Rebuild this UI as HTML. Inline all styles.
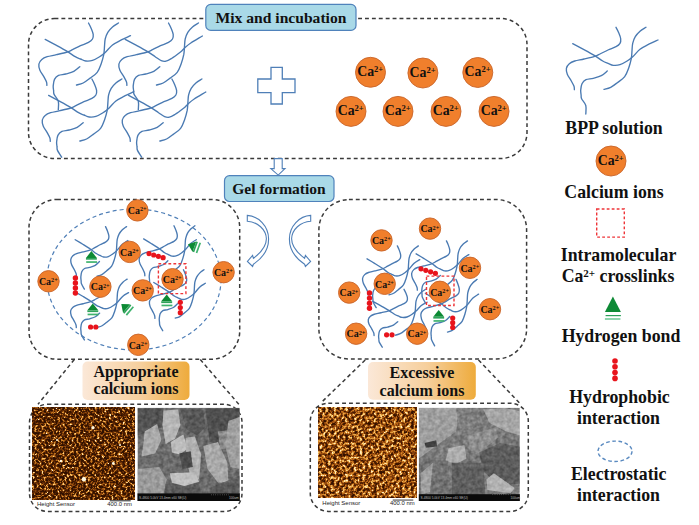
<!DOCTYPE html><html><head><meta charset="utf-8"><style>
html,body{margin:0;padding:0;background:#fff;width:699px;height:525px;overflow:hidden}
svg{display:block;position:absolute;left:0;top:0}
.net path{fill:none;stroke:#4a7bb3;stroke-width:1.5;stroke-linecap:round}
.ca{fill:#f07f2c;stroke:#c8642a;stroke-width:0.9}
.cat{font-family:"Liberation Serif",serif;font-weight:bold;fill:#111}
.dash{fill:none;stroke:#3a3a3a;stroke-width:1.5;stroke-dasharray:3.9 3}
.lbl{font-family:"Liberation Serif",serif;font-weight:bold;fill:#111}
</style></head><body>
<svg width="699" height="525" viewBox="0 0 699 525">
<defs>
<g id="tile" fill="none" stroke="#4a7ab2" stroke-width="1.35" stroke-linecap="round"><path d="M88.5,23.0 C89.0,23.9 90.4,26.5 91.2,28.4 C92.0,30.3 93.0,32.6 93.2,34.4 C93.4,36.2 93.3,37.7 92.5,39.0 C91.7,40.3 90.5,41.3 88.5,42.4 C86.5,43.5 83.2,44.5 80.5,45.7 C77.8,46.9 74.7,48.7 72.5,49.7 C70.3,50.8 69.9,51.2 67.2,52.0 C64.5,52.8 59.8,53.9 56.5,54.7 C53.2,55.5 49.7,55.9 47.2,56.7 C44.8,57.5 43.2,58.2 41.8,59.4 C40.4,60.6 39.2,62.2 38.9,64.0 C38.6,65.8 39.0,67.9 39.8,70.0 C40.6,72.1 42.7,74.7 43.8,76.7 C44.9,78.7 46.0,80.5 46.5,82.0 C47.0,83.5 46.8,84.8 46.9,85.4" vector-effect="non-scaling-stroke"/><path d="M45.2,39.4 C47.1,40.4 52.8,43.4 56.5,45.4 C60.2,47.4 64.1,49.5 67.2,51.4 C70.3,53.3 73.0,55.4 75.2,56.7 C77.4,58.0 78.7,58.3 80.5,59.0 C82.3,59.7 83.8,60.8 85.8,61.0 C87.8,61.2 90.3,61.1 92.5,60.4 C94.7,59.7 97.1,58.3 99.2,57.0 C101.3,55.7 103.0,54.4 105.2,52.4 C107.4,50.4 110.0,47.0 112.5,45.0 C115.0,43.0 117.5,41.9 120.5,40.4 C123.5,38.9 128.8,36.5 130.5,35.7" vector-effect="non-scaling-stroke"/><path d="M118.5,23.0 C117.5,23.7 114.3,25.4 112.5,27.0 C110.7,28.6 109.0,30.4 107.8,32.4 C106.6,34.4 105.8,36.7 105.2,39.0 C104.7,41.3 104.7,43.8 104.5,46.4 C104.3,49.0 104.3,51.5 103.8,54.4 C103.2,57.3 102.3,60.7 101.2,63.7 C100.1,66.7 99.1,70.0 97.2,72.4 C95.3,74.9 92.1,76.6 89.8,78.4 C87.5,80.2 85.4,81.9 83.2,83.0 C81.0,84.1 77.6,84.7 76.5,85.0" vector-effect="non-scaling-stroke"/><path d="M79.8,66.7 C78.8,67.5 76.1,70.2 73.8,71.4 C71.5,72.6 68.3,73.3 65.8,74.0 C63.2,74.7 60.4,74.5 58.5,75.4 C56.6,76.3 55.4,77.6 54.5,79.4 C53.6,81.2 53.4,84.1 53.2,86.0 C53.1,87.9 53.5,89.3 53.6,90.7 C53.8,92.1 53.3,92.7 54.1,94.4 C54.9,96.2 57.6,98.6 58.3,101.2 C59.0,103.8 58.3,108.4 58.3,109.8" vector-effect="non-scaling-stroke"/></g>
<g id="tileR" fill="none" stroke="#4a7ab2" stroke-width="1.35" stroke-linecap="round"><path d="M88.5,23.0 C89.0,23.9 90.4,26.5 91.2,28.4 C92.0,30.3 93.0,32.6 93.2,34.4 C93.4,36.2 93.3,37.7 92.5,39.0 C91.7,40.3 90.5,41.3 88.5,42.4 C86.5,43.5 83.2,44.5 80.5,45.7 C77.8,46.9 74.7,48.7 72.5,49.7 C70.3,50.8 69.9,51.2 67.2,52.0 C64.5,52.8 59.8,53.9 56.5,54.7 C53.2,55.5 49.7,55.9 47.2,56.7 C44.8,57.5 43.2,58.2 41.8,59.4 C40.4,60.6 39.2,62.2 38.9,64.0 C38.6,65.8 39.0,67.9 39.8,70.0 C40.6,72.1 42.7,74.7 43.8,76.7 C44.9,78.7 46.0,80.5 46.5,82.0 C47.0,83.5 46.8,84.8 46.9,85.4" vector-effect="non-scaling-stroke"/><path d="M45.2,39.4 C47.1,40.4 52.8,43.4 56.5,45.4 C60.2,47.4 64.1,49.5 67.2,51.4 C70.3,53.3 72.9,55.2 75.2,56.7 C77.5,58.2 79.4,59.9 81.2,60.6 C83.0,61.4 84.3,61.6 86.0,61.2 C87.7,60.9 89.1,60.0 91.5,58.5 C93.9,57.0 98.3,53.7 100.5,52.0 C102.7,50.3 102.7,49.7 104.4,48.2 C106.1,46.7 107.8,45.0 110.8,43.0 C113.8,41.0 120.5,37.2 122.4,36.0" vector-effect="non-scaling-stroke"/><path d="M118.5,23.0 C117.5,23.7 114.3,25.4 112.5,27.0 C110.7,28.6 109.0,30.4 107.8,32.4 C106.6,34.4 105.8,36.7 105.2,39.0 C104.7,41.3 104.7,43.8 104.5,46.4 C104.3,49.0 104.3,51.5 103.8,54.4 C103.2,57.3 102.3,60.7 101.2,63.7 C100.1,66.7 99.1,70.0 97.2,72.4 C95.3,74.9 92.1,76.6 89.8,78.4 C87.5,80.2 85.4,81.9 83.2,83.0 C81.0,84.1 77.6,84.7 76.5,85.0" vector-effect="non-scaling-stroke"/><path d="M79.8,66.7 C78.8,67.5 76.1,70.2 73.8,71.4 C71.5,72.6 68.3,73.3 65.8,74.0 C63.2,74.7 60.4,74.5 58.5,75.4 C56.6,76.3 55.4,77.6 54.5,79.4 C53.6,81.2 53.4,84.1 53.2,86.0 C53.1,87.9 53.5,89.3 53.6,90.7 C53.8,92.1 53.3,92.7 54.1,94.4 C54.9,96.2 57.6,98.6 58.3,101.2 C59.0,103.8 58.3,108.4 58.3,109.8" vector-effect="non-scaling-stroke"/></g>
<g id="tileRS" fill="none" stroke="#4a7ab2" stroke-width="1.35" stroke-linecap="round"><path d="M88.5,23.0 C89.0,23.9 90.4,26.5 91.2,28.4 C92.0,30.3 93.0,32.6 93.2,34.4 C93.4,36.2 93.3,37.7 92.5,39.0 C91.7,40.3 90.5,41.3 88.5,42.4 C86.5,43.5 83.2,44.5 80.5,45.7 C77.8,46.9 74.7,48.7 72.5,49.7 C70.3,50.8 69.9,51.2 67.2,52.0 C64.5,52.8 59.8,53.9 56.5,54.7 C53.2,55.5 49.7,55.9 47.2,56.7 C44.8,57.5 43.2,58.2 41.8,59.4 C40.4,60.6 39.2,62.2 38.9,64.0 C38.6,65.8 39.0,67.9 39.8,70.0 C40.6,72.1 42.7,74.7 43.8,76.7 C44.9,78.7 46.0,80.5 46.5,82.0 C47.0,83.5 46.8,84.8 46.9,85.4" vector-effect="non-scaling-stroke"/><path d="M45.2,39.4 C47.1,40.4 52.8,43.4 56.5,45.4 C60.2,47.4 64.1,49.5 67.2,51.4 C70.3,53.3 72.9,55.2 75.2,56.7 C77.5,58.2 79.4,59.9 81.2,60.6 C83.0,61.4 84.3,61.6 86.0,61.2 C87.7,60.9 89.1,60.0 91.5,58.5 C93.9,57.0 98.3,53.7 100.5,52.0 C102.7,50.3 102.7,49.7 104.4,48.2 C106.1,46.7 107.8,45.0 110.8,43.0 C113.8,41.0 120.5,37.2 122.4,36.0" vector-effect="non-scaling-stroke"/><path d="M118.5,23.0 C117.5,23.7 114.3,25.4 112.5,27.0 C110.7,28.6 109.0,30.4 107.8,32.4 C106.6,34.4 105.8,36.7 105.2,39.0 C104.7,41.3 104.7,43.8 104.5,46.4 C104.3,49.0 104.3,51.5 103.8,54.4 C103.2,57.3 102.3,60.7 101.2,63.7 C100.1,66.7 99.1,70.0 97.2,72.4 C95.3,74.9 92.1,76.6 89.8,78.4 C87.5,80.2 85.4,81.9 83.2,83.0 C81.0,84.1 77.6,84.7 76.5,85.0" vector-effect="non-scaling-stroke"/><path d="M79.8,66.7 C78.8,67.5 76.1,70.2 73.8,71.4 C71.5,72.6 68.3,73.3 65.8,74.0 C63.2,74.7 60.4,74.5 58.5,75.4 C56.6,76.3 55.4,77.6 54.5,79.4 C53.6,81.2 53.4,84.1 53.2,86.0 C53.1,87.9 53.5,89.3 53.6,90.7 C53.8,92.1 53.3,92.7 54.1,94.4 C54.9,96.2 57.6,100.1 58.3,101.2" vector-effect="non-scaling-stroke"/></g>
<g id="tileS" fill="none" stroke="#4a7ab2" stroke-width="1.35" stroke-linecap="round"><path d="M88.5,23.0 C89.0,23.9 90.4,26.5 91.2,28.4 C92.0,30.3 93.0,32.6 93.2,34.4 C93.4,36.2 93.3,37.7 92.5,39.0 C91.7,40.3 90.5,41.3 88.5,42.4 C86.5,43.5 83.2,44.5 80.5,45.7 C77.8,46.9 74.7,48.7 72.5,49.7 C70.3,50.8 69.9,51.2 67.2,52.0 C64.5,52.8 59.8,53.9 56.5,54.7 C53.2,55.5 49.7,55.9 47.2,56.7 C44.8,57.5 43.2,58.2 41.8,59.4 C40.4,60.6 39.2,62.2 38.9,64.0 C38.6,65.8 39.0,67.9 39.8,70.0 C40.6,72.1 42.7,74.7 43.8,76.7 C44.9,78.7 46.0,80.5 46.5,82.0 C47.0,83.5 46.8,84.8 46.9,85.4" vector-effect="non-scaling-stroke"/><path d="M45.2,39.4 C47.1,40.4 52.8,43.4 56.5,45.4 C60.2,47.4 64.1,49.5 67.2,51.4 C70.3,53.3 73.0,55.4 75.2,56.7 C77.4,58.0 78.7,58.3 80.5,59.0 C82.3,59.7 83.8,60.8 85.8,61.0 C87.8,61.2 90.3,61.1 92.5,60.4 C94.7,59.7 97.1,58.3 99.2,57.0 C101.3,55.7 103.0,54.4 105.2,52.4 C107.4,50.4 110.0,47.0 112.5,45.0 C115.0,43.0 117.5,41.9 120.5,40.4 C123.5,38.9 128.8,36.5 130.5,35.7" vector-effect="non-scaling-stroke"/><path d="M118.5,23.0 C117.5,23.7 114.3,25.4 112.5,27.0 C110.7,28.6 109.0,30.4 107.8,32.4 C106.6,34.4 105.8,36.7 105.2,39.0 C104.7,41.3 104.7,43.8 104.5,46.4 C104.3,49.0 104.3,51.5 103.8,54.4 C103.2,57.3 102.3,60.7 101.2,63.7 C100.1,66.7 99.1,70.0 97.2,72.4 C95.3,74.9 92.1,76.6 89.8,78.4 C87.5,80.2 85.4,81.9 83.2,83.0 C81.0,84.1 77.6,84.7 76.5,85.0" vector-effect="non-scaling-stroke"/><path d="M79.8,66.7 C78.8,67.5 76.1,70.2 73.8,71.4 C71.5,72.6 68.3,73.3 65.8,74.0 C63.2,74.7 60.4,74.5 58.5,75.4 C56.6,76.3 55.4,77.6 54.5,79.4 C53.6,81.2 53.4,84.1 53.2,86.0 C53.1,87.9 53.5,89.3 53.6,90.7 C53.8,92.1 53.3,92.7 54.1,94.4 C54.9,96.2 57.6,100.1 58.3,101.2" vector-effect="non-scaling-stroke"/></g>
<g id="tile2" fill="none" stroke="#4a7ab2" stroke-width="1.35" stroke-linecap="round"><path d="M88.5,23.0 C89.0,23.9 90.4,26.5 91.2,28.4 C92.0,30.3 93.0,32.6 93.2,34.4 C93.4,36.2 93.3,37.7 92.5,39.0 C91.7,40.3 90.5,41.3 88.5,42.4 C86.5,43.5 83.2,44.5 80.5,45.7 C77.8,46.9 74.7,48.7 72.5,49.7 C70.3,50.8 69.9,51.2 67.2,52.0 C64.5,52.8 59.8,53.9 56.5,54.7 C53.2,55.5 49.7,55.9 47.2,56.7 C44.8,57.5 43.2,58.2 41.8,59.4 C40.4,60.6 39.2,62.2 38.9,64.0 C38.6,65.8 39.0,67.9 39.8,70.0 C40.6,72.1 42.7,74.7 43.8,76.7 C44.9,78.7 46.0,80.5 46.5,82.0 C47.0,83.5 46.8,84.8 46.9,85.4" vector-effect="non-scaling-stroke"/><path d="M45.2,39.4 C47.1,40.4 52.8,43.4 56.5,45.4 C60.2,47.4 64.1,49.5 67.2,51.4 C70.3,53.3 73.0,55.4 75.2,56.7 C77.4,58.0 78.7,58.3 80.5,59.0 C82.3,59.7 83.8,60.8 85.8,61.0 C87.8,61.2 90.3,61.1 92.5,60.4 C94.7,59.7 97.1,58.3 99.2,57.0 C101.3,55.7 103.0,54.4 105.2,52.4 C107.4,50.4 110.0,47.0 112.5,45.0 C115.0,43.0 119.2,41.2 120.5,40.4" vector-effect="non-scaling-stroke"/><path d="M118.5,23.0 C117.5,23.7 114.3,25.4 112.5,27.0 C110.7,28.6 109.0,30.4 107.8,32.4 C106.6,34.4 105.8,36.7 105.2,39.0 C104.7,41.3 104.7,43.8 104.5,46.4 C104.3,49.0 104.3,51.5 103.8,54.4 C103.2,57.3 102.3,60.7 101.2,63.7 C100.1,66.7 99.1,70.0 97.2,72.4 C95.3,74.9 92.1,76.6 89.8,78.4 C87.5,80.2 85.4,81.9 83.2,83.0 C81.0,84.1 77.6,84.7 76.5,85.0" vector-effect="non-scaling-stroke"/><path d="M79.8,66.7 C78.8,67.5 76.1,70.2 73.8,71.4 C71.5,72.6 68.3,73.3 65.8,74.0 C63.2,74.7 60.4,74.5 58.5,75.4 C56.6,76.3 55.4,77.6 54.5,79.4 C53.6,81.2 53.4,84.1 53.2,86.0 C53.1,87.9 53.5,89.3 53.6,90.7 C53.8,92.1 53.3,92.7 54.1,94.4 C54.9,96.2 57.6,100.1 58.3,101.2" vector-effect="non-scaling-stroke"/></g>
<linearGradient id="lg" x1="0" y1="0" x2="1" y2="0"><stop offset="0" stop-color="#fbe8d8"/><stop offset="0.55" stop-color="#f6cf9c"/><stop offset="1" stop-color="#eeab3c"/></linearGradient>
<filter id="afm" x="0" y="0" width="1" height="1" color-interpolation-filters="sRGB">
<feTurbulence type="fractalNoise" baseFrequency="0.43" numOctaves="3" seed="7" result="n"/>
<feColorMatrix in="n" type="matrix" values="1.7 0 0 0 -0.42  1.7 0 0 0 -0.42  1.7 0 0 0 -0.42  0 0 0 0 1"/>
<feComponentTransfer><feFuncR type="table" tableValues="0.18 0.18 0.2 0.24 0.32 0.45 0.62 0.8 0.95 1 1"/><feFuncG type="table" tableValues="0.06 0.06 0.07 0.09 0.13 0.21 0.33 0.5 0.7 0.88 0.95"/><feFuncB type="table" tableValues="0 0 0 0 0.01 0.03 0.06 0.14 0.35 0.6 0.85"/></feComponentTransfer>
</filter>
<filter id="afm2" x="0" y="0" width="1" height="1" color-interpolation-filters="sRGB">
<feTurbulence type="fractalNoise" baseFrequency="0.35" numOctaves="3" seed="9" result="n"/>
<feColorMatrix in="n" type="matrix" values="1.7 0 0 0 -0.35  1.7 0 0 0 -0.35  1.7 0 0 0 -0.35  0 0 0 0 1"/>
<feComponentTransfer><feFuncR type="table" tableValues="0.2 0.2 0.24 0.32 0.45 0.6 0.75 0.87 0.95 1 1"/><feFuncG type="table" tableValues="0.07 0.07 0.09 0.13 0.2 0.3 0.42 0.58 0.75 0.88 0.95"/><feFuncB type="table" tableValues="0 0 0 0.01 0.03 0.06 0.1 0.2 0.4 0.6 0.8"/></feComponentTransfer>
</filter>
<filter id="semnoise" x="0" y="0" width="1" height="1" color-interpolation-filters="sRGB"><feTurbulence type="fractalNoise" baseFrequency="0.25" numOctaves="2" seed="2"/><feColorMatrix type="matrix" values="1.4 0 0 0 -0.2  1.4 0 0 0 -0.2  1.4 0 0 0 -0.2  0 0 0 0 1"/></filter>
<filter id="semblur" x="-5%" y="-5%" width="110%" height="110%"><feGaussianBlur stdDeviation="0.5"/></filter>
</defs>
<rect x="28.5" y="18.5" width="498.5" height="140" rx="26" class="dash"/>
<rect x="205.8" y="4.4" width="150.2" height="26" rx="5" fill="#a9d9e7" stroke="#4f82bb" stroke-width="1.2"/>
<text x="281" y="23.2" class="lbl" text-anchor="middle" style="font-size:15.6px">Mix and incubation</text>
<g class="net">
<g transform="matrix(1 0 0 1 0 0)"><use href="#tile"/></g>
<g transform="matrix(1 0 0 1 80 0)"><use href="#tileR"/></g>
<g transform="matrix(1 0 0 1 3.4 56)"><use href="#tileS"/></g>
<g transform="matrix(1 0 0 1 83.4 56)"><use href="#tileRS"/></g>
<g transform="matrix(1 0 0 1 527.5 4.3)"><use href="#tile"/></g>
<g transform="matrix(0.7 0 0 0.8 43.6 208.2)"><use href="#tile2"/></g>
<g transform="matrix(0.7 0 0 0.8 112 207.4)"><use href="#tile2"/></g>
<g transform="matrix(0.71 0 0 0.778 43 261.2)"><use href="#tile2"/></g>
<g transform="matrix(0.685 0 0 0.78 122.8 251.8)"><use href="#tile2"/></g>
<g transform="matrix(0.7 0 0 0.79 335.4 227.7)"><use href="#tile2"/></g>
<g transform="matrix(0.7 0 0 0.79 384.5 222.7)"><use href="#tile2"/></g>
<g transform="matrix(0.72 0 0 0.74 340.3 272.3)"><use href="#tile2"/></g>
<g transform="matrix(0.707 0 0 0.85 393.4 259.8)"><use href="#tile2"/></g>
</g>
<path d="M271,67.4 H282.3 V79 H295 V92.7 H282.3 V104 H271 V92.7 H257.8 V79 H271 Z" fill="#fff" stroke="#4f7fb7" stroke-width="1.3"/>
<circle cx="370.5" cy="72.3" r="15" class="ca"/>
<text x="357.2" y="76.0" class="cat" style="font-size:13.8px">Ca<tspan dy="-3.9" style="font-size:8.6px">2+</tspan></text>
<circle cx="422.9" cy="73" r="15" class="ca"/>
<text x="409.6" y="76.8" class="cat" style="font-size:13.8px">Ca<tspan dy="-3.9" style="font-size:8.6px">2+</tspan></text>
<circle cx="477.8" cy="72.5" r="15" class="ca"/>
<text x="464.5" y="76.2" class="cat" style="font-size:13.8px">Ca<tspan dy="-3.9" style="font-size:8.6px">2+</tspan></text>
<circle cx="351" cy="111.4" r="15" class="ca"/>
<text x="337.7" y="115.2" class="cat" style="font-size:13.8px">Ca<tspan dy="-3.9" style="font-size:8.6px">2+</tspan></text>
<circle cx="398" cy="111.4" r="15" class="ca"/>
<text x="384.7" y="115.2" class="cat" style="font-size:13.8px">Ca<tspan dy="-3.9" style="font-size:8.6px">2+</tspan></text>
<circle cx="446" cy="111.4" r="15" class="ca"/>
<text x="432.7" y="115.2" class="cat" style="font-size:13.8px">Ca<tspan dy="-3.9" style="font-size:8.6px">2+</tspan></text>
<circle cx="494" cy="111.4" r="15" class="ca"/>
<text x="480.7" y="115.2" class="cat" style="font-size:13.8px">Ca<tspan dy="-3.9" style="font-size:8.6px">2+</tspan></text>
<text x="614" y="133.7" class="lbl" text-anchor="middle" style="font-size:17.8px">BPP solution</text>
<circle cx="611" cy="161" r="15" class="ca"/>
<text x="597.7" y="164.8" class="cat" style="font-size:13.8px">Ca<tspan dy="-3.9" style="font-size:8.6px">2+</tspan></text>
<text x="614" y="198" class="lbl" text-anchor="middle" style="font-size:17.8px">Calcium ions</text>
<rect x="596.7" y="209" width="27.6" height="28.1" fill="none" stroke="#ee3538" stroke-width="1.4" stroke-dasharray="2.8 2.2"/>
<text x="618.5" y="260.7" class="lbl" text-anchor="middle" style="font-size:17.8px">Intramolecular</text>
<text x="618" y="281.5" class="lbl" text-anchor="middle" style="font-size:17.8px">Ca<tspan dy="-5" style="font-size:11px">2+</tspan><tspan dy="5"> crosslinks</tspan></text>
<path d="M612.9,296.4 L620.9,312.1 L604.9,312.1Z" fill="#0e8a36"/>
<rect x="605.6" y="315" width="15.3" height="1.2" fill="#2c9e5a"/><rect x="604.9" y="318.4" width="15.5" height="1.2" fill="#44b878"/>
<text x="621" y="341.5" class="lbl" text-anchor="middle" style="font-size:17.8px">Hydrogen bond</text>
<circle cx="615" cy="361.0" r="2.8" fill="#e8141c"/>
<circle cx="615" cy="366.8" r="2.8" fill="#e8141c"/>
<circle cx="615" cy="372.6" r="2.8" fill="#e8141c"/>
<circle cx="615" cy="378.4" r="2.8" fill="#e8141c"/>
<text x="619.5" y="403.4" class="lbl" text-anchor="middle" style="font-size:17.8px">Hydrophobic</text>
<text x="618.5" y="424" class="lbl" text-anchor="middle" style="font-size:17.8px">interaction</text>
<ellipse cx="615" cy="451.3" rx="17" ry="10.2" fill="none" stroke="#5a8ac0" stroke-width="1.4" stroke-dasharray="3.6 2.6"/>
<text x="618.7" y="480.4" class="lbl" text-anchor="middle" style="font-size:17.8px">Electrostatic</text>
<text x="618.5" y="501" class="lbl" text-anchor="middle" style="font-size:17.8px">interaction</text>
<path d="M274.2,158.6 H282.2 V168.6 H285 L278.2,175.1 L270.8,168.6 H274.2 Z" fill="#fff" stroke="#4f7fb7" stroke-width="1.1"/>
<rect x="224.5" y="175.7" width="109.5" height="25.8" rx="5" fill="#a9d9e7" stroke="#4f82bb" stroke-width="1.2"/>
<text x="279" y="194" class="lbl" text-anchor="middle" style="font-size:15.5px">Gel formation</text>
<rect x="29" y="199.4" width="210.7" height="159.8" rx="28" class="dash"/>
<rect x="318.9" y="199.6" width="207.7" height="159.4" rx="30" class="dash"/>
<ellipse cx="134" cy="279.5" rx="87" ry="70.5" fill="none" stroke="#4f7fb7" stroke-width="1.2" stroke-dasharray="4 3"/>
<path d="M247.3,215.4 C258.5,216 268.6,226 268.6,239 C268.6,250 262,258.5 253.4,264.2 L252.6,266.4 L247.4,261.4 L252.6,255.4 L253.4,258.3 C260.5,253 266.4,246 266.4,238.8 C266.2,229.5 257.5,221.8 247.3,221.2 Z" fill="#fff" stroke="#4f7fb7" stroke-width="1.1"/>
<path d="M247.3,215.4 C258.5,216 268.6,226 268.6,239 C268.6,250 262,258.5 253.4,264.2 L252.6,266.4 L247.4,261.4 L252.6,255.4 L253.4,258.3 C260.5,253 266.4,246 266.4,238.8 C266.2,229.5 257.5,221.8 247.3,221.2 Z" fill="#fff" stroke="#4f7fb7" stroke-width="1.1" transform="translate(558 0) scale(-1 1)"/>
<rect x="158.4" y="263.8" width="27.5" height="29.8" fill="none" stroke="#ee3538" stroke-width="1.4" stroke-dasharray="2.8 2.2"/>
<circle cx="137.4" cy="210.4" r="10.7" class="ca"/>
<text x="127.8" y="214.2" class="cat" style="font-size:9.95px">Ca<tspan dy="-2.8" style="font-size:6.2px">2+</tspan></text>
<circle cx="129.7" cy="251.9" r="10.7" class="ca"/>
<text x="120.0" y="255.7" class="cat" style="font-size:9.95px">Ca<tspan dy="-2.8" style="font-size:6.2px">2+</tspan></text>
<circle cx="48.5" cy="281.3" r="10.7" class="ca"/>
<text x="38.9" y="285.1" class="cat" style="font-size:9.95px">Ca<tspan dy="-2.8" style="font-size:6.2px">2+</tspan></text>
<circle cx="100.4" cy="286.7" r="10.7" class="ca"/>
<text x="90.8" y="290.4" class="cat" style="font-size:9.95px">Ca<tspan dy="-2.8" style="font-size:6.2px">2+</tspan></text>
<circle cx="142.7" cy="290.4" r="10.7" class="ca"/>
<text x="133.0" y="294.1" class="cat" style="font-size:9.95px">Ca<tspan dy="-2.8" style="font-size:6.2px">2+</tspan></text>
<circle cx="172.5" cy="279.2" r="10.7" class="ca"/>
<text x="162.8" y="282.9" class="cat" style="font-size:9.95px">Ca<tspan dy="-2.8" style="font-size:6.2px">2+</tspan></text>
<circle cx="223.6" cy="272.2" r="10.7" class="ca"/>
<text x="213.9" y="275.9" class="cat" style="font-size:9.95px">Ca<tspan dy="-2.8" style="font-size:6.2px">2+</tspan></text>
<circle cx="138.3" cy="344.8" r="10.7" class="ca"/>
<text x="128.7" y="348.6" class="cat" style="font-size:9.95px">Ca<tspan dy="-2.8" style="font-size:6.2px">2+</tspan></text>
<g transform="translate(91.4 251.1) rotate(0) scale(1.0)"><path d="M0,0 L5.45,6.8 L-5.45,6.8Z" fill="#0c8a34"/><rect x="-5.45" y="6.8" width="10.9" height="1.8" fill="#2ea35a"/><rect x="-5.2" y="10.1" width="10.9" height="1.7" fill="#3fb36e"/></g>
<g transform="translate(92.8 303.5) rotate(0) scale(1.0)"><path d="M0,0 L5.45,6.8 L-5.45,6.8Z" fill="#0c8a34"/><rect x="-5.45" y="6.8" width="10.9" height="1.8" fill="#2ea35a"/><rect x="-5.2" y="10.1" width="10.9" height="1.7" fill="#3fb36e"/></g>
<g transform="translate(166.7 294.5) rotate(0) scale(1.0)"><path d="M0,0 L5.45,6.8 L-5.45,6.8Z" fill="#0c8a34"/><rect x="-5.45" y="6.8" width="10.9" height="1.8" fill="#2ea35a"/><rect x="-5.2" y="10.1" width="10.9" height="1.7" fill="#3fb36e"/></g>
<g transform="translate(188 244.3) rotate(-70) scale(1.0)"><path d="M0,0 L5.45,6.8 L-5.45,6.8Z" fill="#0c8a34"/><rect x="-5.45" y="6.8" width="10.9" height="1.8" fill="#2ea35a"/><rect x="-5.2" y="10.1" width="10.9" height="1.7" fill="#3fb36e"/></g>
<g transform="translate(121.3 304.1) rotate(-50) scale(1.0)"><path d="M0,0 L5.45,6.8 L-5.45,6.8Z" fill="#0c8a34"/><rect x="-5.45" y="6.8" width="10.9" height="1.8" fill="#2ea35a"/><rect x="-5.2" y="10.1" width="10.9" height="1.7" fill="#3fb36e"/></g>
<circle cx="75.4" cy="278.0" r="2.7" fill="#e8141c"/>
<circle cx="75.4" cy="283.0" r="2.7" fill="#e8141c"/>
<circle cx="75.4" cy="288.0" r="2.7" fill="#e8141c"/>
<circle cx="75.4" cy="293.0" r="2.7" fill="#e8141c"/>
<circle cx="149.0" cy="253.6" r="2.6" fill="#e8141c"/>
<circle cx="153.7" cy="255.0" r="2.6" fill="#e8141c"/>
<circle cx="158.4" cy="256.3" r="2.6" fill="#e8141c"/>
<circle cx="163.1" cy="257.7" r="2.6" fill="#e8141c"/>
<circle cx="180.3" cy="302.3" r="2.6" fill="#e8141c"/>
<circle cx="180.3" cy="307.5" r="2.6" fill="#e8141c"/>
<circle cx="180.3" cy="312.7" r="2.6" fill="#e8141c"/>
<circle cx="90.6" cy="327.0" r="2.6" fill="#e8141c"/>
<circle cx="95.8" cy="327.0" r="2.6" fill="#e8141c"/>
<rect x="426.5" y="276.1" width="27.5" height="29.4" fill="none" stroke="#ee3538" stroke-width="1.4" stroke-dasharray="2.8 2.2"/>
<circle cx="430" cy="228.6" r="10.7" class="ca"/>
<text x="420.4" y="232.3" class="cat" style="font-size:9.95px">Ca<tspan dy="-2.8" style="font-size:6.2px">2+</tspan></text>
<circle cx="381.5" cy="240.4" r="10.7" class="ca"/>
<text x="371.9" y="244.2" class="cat" style="font-size:9.95px">Ca<tspan dy="-2.8" style="font-size:6.2px">2+</tspan></text>
<circle cx="470" cy="267.8" r="10.7" class="ca"/>
<text x="460.4" y="271.6" class="cat" style="font-size:9.95px">Ca<tspan dy="-2.8" style="font-size:6.2px">2+</tspan></text>
<circle cx="384.7" cy="283.8" r="10.7" class="ca"/>
<text x="375.1" y="287.6" class="cat" style="font-size:9.95px">Ca<tspan dy="-2.8" style="font-size:6.2px">2+</tspan></text>
<circle cx="349.2" cy="292.6" r="10.7" class="ca"/>
<text x="339.6" y="296.4" class="cat" style="font-size:9.95px">Ca<tspan dy="-2.8" style="font-size:6.2px">2+</tspan></text>
<circle cx="439.9" cy="291.8" r="10.7" class="ca"/>
<text x="430.2" y="295.6" class="cat" style="font-size:9.95px">Ca<tspan dy="-2.8" style="font-size:6.2px">2+</tspan></text>
<circle cx="490" cy="309.2" r="10.7" class="ca"/>
<text x="480.4" y="312.9" class="cat" style="font-size:9.95px">Ca<tspan dy="-2.8" style="font-size:6.2px">2+</tspan></text>
<circle cx="356.1" cy="333.7" r="10.7" class="ca"/>
<text x="346.5" y="337.4" class="cat" style="font-size:9.95px">Ca<tspan dy="-2.8" style="font-size:6.2px">2+</tspan></text>
<circle cx="417.2" cy="333.7" r="10.7" class="ca"/>
<text x="407.6" y="337.4" class="cat" style="font-size:9.95px">Ca<tspan dy="-2.8" style="font-size:6.2px">2+</tspan></text>
<g transform="translate(438.7 310) rotate(0) scale(1.0)"><path d="M0,0 L5.45,6.8 L-5.45,6.8Z" fill="#0c8a34"/><rect x="-5.45" y="6.8" width="10.9" height="1.8" fill="#2ea35a"/><rect x="-5.2" y="10.1" width="10.9" height="1.7" fill="#3fb36e"/></g>
<circle cx="421.0" cy="268.8" r="2.6" fill="#e8141c"/>
<circle cx="425.8" cy="270.3" r="2.6" fill="#e8141c"/>
<circle cx="430.6" cy="271.8" r="2.6" fill="#e8141c"/>
<circle cx="435.4" cy="273.3" r="2.6" fill="#e8141c"/>
<circle cx="369.5" cy="293.0" r="2.7" fill="#e8141c"/>
<circle cx="369.5" cy="298.1" r="2.7" fill="#e8141c"/>
<circle cx="369.5" cy="303.2" r="2.7" fill="#e8141c"/>
<circle cx="369.5" cy="308.3" r="2.7" fill="#e8141c"/>
<circle cx="452.7" cy="318.0" r="2.6" fill="#e8141c"/>
<circle cx="452.7" cy="322.7" r="2.6" fill="#e8141c"/>
<circle cx="452.7" cy="327.4" r="2.6" fill="#e8141c"/>
<circle cx="386.6" cy="334.8" r="2.6" fill="#e8141c"/>
<circle cx="392.0" cy="334.8" r="2.6" fill="#e8141c"/>
<path d="M74.3,359.5 L38,404.3 M200.3,359.5 L238.8,404.3 M365.2,360 L320.6,403.2 M478.5,360 L519.7,403.2" class="dash"/>
<rect x="82.5" y="361.5" width="107" height="38.5" rx="5" fill="url(#lg)"/>
<text x="136" y="377" class="lbl" text-anchor="middle" style="font-size:16px">Appropriate</text>
<text x="136" y="394.4" class="lbl" text-anchor="middle" style="font-size:16px">calcium ions</text>
<rect x="368" y="362" width="107.8" height="37.8" rx="5" fill="url(#lg)"/>
<text x="422" y="377.5" class="lbl" text-anchor="middle" style="font-size:16px">Excessive</text>
<text x="422" y="395.7" class="lbl" text-anchor="middle" style="font-size:16px">calcium ions</text>
<rect x="29.5" y="404.3" width="212.5" height="107.2" rx="18" class="dash"/>
<rect x="310.3" y="403.2" width="218" height="108.2" rx="18" class="dash"/>
<rect x="32.7" y="407.5" width="101.5" height="92.3" fill="#6a3806"/>
<rect x="32.7" y="407.5" width="101.5" height="92.3" filter="url(#afm)"/>
<rect x="318.4" y="407.4" width="98.3" height="90.2" fill="#7a4408"/>
<rect x="318.4" y="407.4" width="98.3" height="90.2" filter="url(#afm2)"/>
<circle cx="93" cy="427.7" r="1.6" fill="#fff8e0" filter="url(#semblur)"/>
<circle cx="83.9" cy="479.3" r="2.2" fill="#fff8e0" filter="url(#semblur)"/>
<circle cx="113.3" cy="463.5" r="1.4" fill="#fff8e0" filter="url(#semblur)"/>
<circle cx="61" cy="461" r="1.2" fill="#fff8e0" filter="url(#semblur)"/>
<circle cx="57" cy="440" r="1" fill="#fff8e0" filter="url(#semblur)"/>
<circle cx="120" cy="445" r="1" fill="#fff8e0" filter="url(#semblur)"/>
<text x="37" y="506" style="font-family:'Liberation Sans',sans-serif;font-size:6px" fill="#222">Height Sensor</text>
<text x="107.3" y="506" style="font-family:'Liberation Sans',sans-serif;font-size:5.9px" fill="#222">400.0 nm</text>
<rect x="109.7" y="500.3" width="21" height="1" fill="#222"/>
<text x="322.3" y="505" style="font-family:'Liberation Sans',sans-serif;font-size:6px" fill="#222">Height Sensor</text>
<text x="390" y="505" style="font-family:'Liberation Sans',sans-serif;font-size:5.9px" fill="#222">400.0 nm</text>
<rect x="392.7" y="499.6" width="20.6" height="0.9" fill="#222"/>
<clipPath id="semc1"><rect x="137.5" y="407.8" width="102.2" height="93.2"/></clipPath>
<g clip-path="url(#semc1)"><rect x="137.5" y="407.8" width="102.2" height="93.2" fill="#6c6c6c"/><g filter="url(#semblur)">
<polygon points="137.3,408.4 163.5,408.4 162.5,427.2 148.8,431.4 137.3,435.6" fill="#525252"/>
<polygon points="180.3,409.4 203.3,409.4 205.4,427.2 197.0,435.6 186.5,429.3" fill="#565656"/>
<polygon points="205.4,408.4 239.9,408.4 239.9,427.2 224.2,446.1 209.6,441.9" fill="#505050"/>
<polygon points="218.0,431.4 234.7,429.3 235.8,448.2 220.1,449.2" fill="#8a8a8a"/>
<polygon points="228.4,420.9 239.9,416.8 239.9,469.1 230.5,467.0 225.3,446.1" fill="#9e9e9e"/>
<polygon points="163.5,410.5 178.2,409.4 180.3,425.1 175.0,438.7 165.6,444.0 162.5,425.1" fill="#b6b6b6"/>
<polygon points="144.7,431.4 157.2,424.1 161.4,439.8 155.1,453.4 141.5,456.5 143.6,441.9" fill="#aaaaaa"/>
<polygon points="170.8,441.9 183.4,434.6 187.6,448.2 180.3,454.5 171.9,452.4" fill="#bcbcbc"/>
<polygon points="185.5,437.7 194.9,436.6 201.2,454.5 199.1,479.6 190.7,477.5 186.5,460.7" fill="#b0b0b0"/>
<polygon points="179.2,453.4 190.7,451.3 192.8,467.0 182.4,469.1" fill="#4c4c4c"/>
<polygon points="203.3,446.1 218.0,441.9 227.4,462.8 228.4,481.7 218.0,482.7 207.5,469.1" fill="#a8a8a8"/>
<polygon points="137.3,469.1 159.3,467.0 166.6,479.6 163.5,494.2 137.3,494.2" fill="#9a9a9a"/>
<polygon points="165.6,483.8 199.1,482.7 201.2,495.3 164.6,495.3" fill="#5c5c5c"/>
<polygon points="169.8,473.3 194.9,472.3 199.1,481.7 184.5,485.9 171.9,482.7" fill="#c0c0c0"/>
<polygon points="209.6,488.0 239.9,475.4 239.9,495.3 209.6,495.3" fill="#5a5a5a"/>
</g>
<rect x="137.5" y="407.8" width="102.2" height="93.2" filter="url(#semnoise)" opacity="0.25" style="mix-blend-mode:overlay"/>
</g>
<clipPath id="semc2"><rect x="418.8" y="407.8" width="101.0" height="93.2"/></clipPath>
<g clip-path="url(#semc2)"><rect x="418.8" y="407.8" width="101.0" height="93.2" fill="#7a7a7a"/><g filter="url(#semblur)">
<polygon points="418.8,408.0 460.3,408.0 456.1,431.4 441.4,441.9 418.8,458.6" fill="#9e9e9e"/>
<polygon points="456.1,408.0 474.9,408.0 472.8,433.5 458.2,435.6" fill="#808080"/>
<polygon points="483.3,409.4 504.2,408.0 521.0,411.5 521.0,435.6 506.3,431.4 489.6,423.0" fill="#a6a6a6"/>
<polygon points="468.6,435.6 495.9,427.2 498.0,437.7 479.1,452.4 468.6,450.3" fill="#8e8e8e"/>
<polygon points="479.1,452.4 500.1,442.9 521.0,447.1 521.0,483.8 498.0,484.8 483.3,471.2" fill="#5c5c5c"/>
<polygon points="424.7,442.9 436.2,440.2 437.2,446.5 425.7,447.7" fill="#404040"/>
<polygon points="448.7,448.2 464.5,445.0 466.5,458.6 456.1,463.9 445.6,460.7" fill="#adadad"/>
<polygon points="418.8,458.6 447.7,460.7 451.9,495.3 418.8,495.3" fill="#727272"/>
<polygon points="420.5,473.3 433.0,462.8 429.9,492.1 421.5,494.2" fill="#a0a0a0"/>
<polygon points="451.9,462.8 483.3,462.8 485.4,495.3 451.9,495.3" fill="#5e5e5e"/>
<polygon points="486.4,479.6 493.8,473.3 514.7,488.0 510.5,493.2 487.5,490.1" fill="#b2b2b2"/>
</g>
<rect x="418.8" y="407.8" width="101.0" height="93.2" filter="url(#semnoise)" opacity="0.25" style="mix-blend-mode:overlay"/>
</g>
<rect x="137.5" y="493.4" width="102.3" height="7.6" fill="#0a0a0a"/>
<rect x="418.8" y="494.2" width="101" height="6.8" fill="#0a0a0a"/>
<text x="139" y="499" style="font-family:'Liberation Sans',sans-serif;font-size:3.2px" fill="#bbb">S-4800 5.0kV 13.4mm x60 SE(U)</text>
<text x="229" y="499" style="font-family:'Liberation Sans',sans-serif;font-size:3.2px" fill="#bbb">100um</text>
<path d="M211,494.8 h18" stroke="#bbb" stroke-width="0.6" stroke-dasharray="0.6 1.6"/>
<text x="420.5" y="498.8" style="font-family:'Liberation Sans',sans-serif;font-size:3.2px" fill="#bbb">S-4800 5.0kV 13.4mm x60 SE(U)</text>
<text x="510.5" y="498.8" style="font-family:'Liberation Sans',sans-serif;font-size:3.2px" fill="#bbb">100um</text>
<path d="M492.5,494.6 h18" stroke="#bbb" stroke-width="0.6" stroke-dasharray="0.6 1.6"/>
</svg></body></html>
